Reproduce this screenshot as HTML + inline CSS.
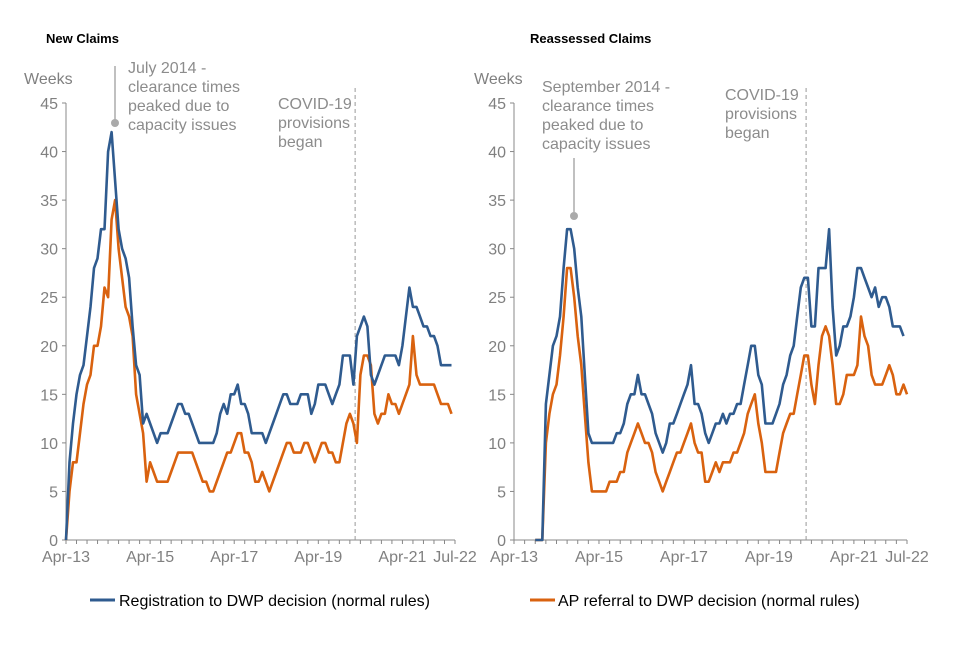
<!DOCTYPE html>
<html><head><meta charset="utf-8"><style>
body{margin:0;background:#fff;font-family:"Liberation Sans",Arial,sans-serif}
svg text{font-family:"Liberation Sans",Arial,sans-serif}
</style></head><body>
<svg id="c" width="960" height="640" viewBox="0 0 960 640">
<text x="46" y="43" font-size="13" font-weight="bold" fill="#000">New Claims</text>
<text x="530" y="43" font-size="13" font-weight="bold" fill="#000">Reassessed Claims</text>
<text x="24" y="84" font-size="16" fill="#808080">Weeks</text>
<text x="474" y="84" font-size="16" fill="#808080">Weeks</text>
<g id="left"></g>
<g id="right"></g>
<g font-size="16" fill="#8c8c8c">
<text><tspan x="128" y="73">July 2014 -</tspan><tspan x="128" y="92">clearance times</tspan><tspan x="128" y="111">peaked due to</tspan><tspan x="128" y="130">capacity issues</tspan></text>
<text><tspan x="278" y="109">COVID-19</tspan><tspan x="278" y="128">provisions</tspan><tspan x="278" y="147">began</tspan></text>
<text><tspan x="542" y="92">September 2014 -</tspan><tspan x="542" y="111">clearance times</tspan><tspan x="542" y="130">peaked due to</tspan><tspan x="542" y="149">capacity issues</tspan></text>
<text><tspan x="725" y="100">COVID-19</tspan><tspan x="725" y="119">provisions</tspan><tspan x="725" y="138">began</tspan></text>
</g>
<line x1="115" y1="66" x2="115" y2="120" stroke="#aaa" stroke-width="1.5"/>
<circle cx="115" cy="123" r="4" fill="#aaa"/>
<line x1="574" y1="158" x2="574" y2="212" stroke="#aaa" stroke-width="1.5"/>
<circle cx="574" cy="216" r="4" fill="#aaa"/>
<line x1="90" y1="600" x2="115" y2="600" stroke="#2f5b8f" stroke-width="3"/>
<text x="119" y="606" font-size="16" fill="#000">Registration to DWP decision (normal rules)</text>
<line x1="530" y1="600" x2="555" y2="600" stroke="#d9620f" stroke-width="3"/>
<text x="558" y="606" font-size="16" fill="#000">AP referral to DWP decision (normal rules)</text>
</svg>
<script>
const yTicks=[0,5,10,15,20,25,30,35,40,45];
const xLabels=["Apr-13","Apr-15","Apr-17","Apr-19","Apr-21","Jul-22"];
const xLabelMonths=[0,24,48,72,96,111];
const covidMonth=83;
const ncRegistration=[0,8,12,15,17,18,21,24,28,29,32,32,40,42,37,32,30,29,27,22,18,17,12,13,12,11,10,11,11,11,12,13,14,14,13,13,12,11,10,10,10,10,10,11,13,14,13,15,15,16,14,14,13,11,11,11,11,10,11,12,13,14,15,15,14,14,14,15,15,15,13,14,16,16,16,15,14,15,16,19,19,19,16,21,22,23,22,17,16,17,18,19,19,19,19,18,20,23,26,24,24,23,22,22,21,21,20,18,18,18,18];
const ncAP=[0,5,8,8,11,14,16,17,20,20,22,26,25,33,35,30,27,24,23,21,15,13,11,6,8,7,6,6,6,6,7,8,9,9,9,9,9,8,7,6,6,5,5,6,7,8,9,9,10,11,11,9,9,8,6,6,7,6,5,6,7,8,9,10,10,9,9,9,10,10,9,8,9,10,10,9,9,8,8,10,12,13,12,10,17,19,19,18,13,12,13,13,15,14,14,13,14,15,16,21,17,16,16,16,16,16,15,14,14,14,13];
const rcRegistration=[null,null,null,null,null,null,0,0,0,14,17,20,21,23,28,32,32,30,26,23,17,11,10,10,10,10,10,10,10,11,11,12,14,15,15,17,15,15,14,13,11,10,9,10,12,12,13,14,15,16,18,14,14,13,11,10,11,12,12,13,12,13,13,14,14,16,18,20,20,17,16,12,12,12,13,14,16,17,19,20,23,26,27,27,22,22,28,28,28,32,24,19,20,22,22,23,25,28,28,27,26,25,26,24,25,25,24,22,22,22,21];
const rcAP=[null,null,null,null,null,null,0,0,0,10,13,15,16,19,23,28,28,25,21,18,13,8,5,5,5,5,5,6,6,6,7,7,9,10,11,12,11,10,10,9,7,6,5,6,7,8,9,9,10,11,12,10,9,9,6,6,7,8,7,8,8,8,9,9,10,11,13,14,15,12,10,7,7,7,7,9,11,12,13,13,15,17,19,19,16,14,18,21,22,21,18,14,14,15,17,17,17,18,23,21,20,17,16,16,16,17,18,17,15,15,16,15];
const NS="http://www.w3.org/2000/svg";
function mk(p,t,a){const e=document.createElementNS(NS,t);for(const k in a)e.setAttribute(k,a[k]);p.appendChild(e);return e;}
function panel(g,x0,x1,series,covidLabelX){
  const y0=540,y45=103;
  const ys=v=>y0-(v/45)*(y0-y45);
  const xs=m=>x0+m*(x1-x0)/111;
  yTicks.forEach(t=>{
    const tx=mk(g,'text',{x:x0-8,y:ys(t)+6,'font-size':16,fill:'#808080','text-anchor':'end'});
    tx.textContent=t;
    
    
    const tl=mk(g,'line',{x1:x0-4,x2:x0,y1:ys(t),y2:ys(t),stroke:'#888'});
    
    
  });
  const ya=mk(g,'line',{x1:x0,x2:x0,y1:ys(45),y2:y0,stroke:'#888'});
  
  
  const xa=mk(g,'line',{x1:x0,x2:x1,y1:y0,y2:y0,stroke:'#888'});
  
  
  for(let m=0;m<=111;m+=3){
    const t=mk(g,'line',{x1:xs(m),x2:xs(m),y1:y0,y2:y0+4,stroke:'#888'});
    
    
  }
  xLabels.forEach((l,i)=>{
    const tx=mk(g,'text',{x:xs(xLabelMonths[i]),y:y0+22,'font-size':16,fill:'#808080','text-anchor':'middle'});
    tx.textContent=l;
    
    
  });
  const cv=mk(g,'line',{x1:xs(covidMonth-0.5),x2:xs(covidMonth-0.5),y1:88,y2:y0,stroke:'#999','stroke-dasharray':'4,3'});
  
  
  series.forEach(s=>{
    let d='';
    s.data.forEach((v,i)=>{if(v===null)return;d+=(d?'L':'M')+xs(i).toFixed(1)+','+ys(v).toFixed(1);});
    const p=mk(g,'path',{d:d,fill:'none',stroke:s.color,'stroke-width':2.6,'stroke-linejoin':'round'});
    
    
  });
}
panel(document.getElementById('left'),66,455,[
  {data:ncAP,color:'#d9620f',name:'line-new-claims-ap-referral'},
  {data:ncRegistration,color:'#2f5b8f',name:'line-new-claims-registration'}]);
panel(document.getElementById('right'),514,907,[
  {data:rcAP,color:'#d9620f',name:'line-reassessed-ap-referral'},
  {data:rcRegistration,color:'#2f5b8f',name:'line-reassessed-registration'}]);
</script>
</body></html>
